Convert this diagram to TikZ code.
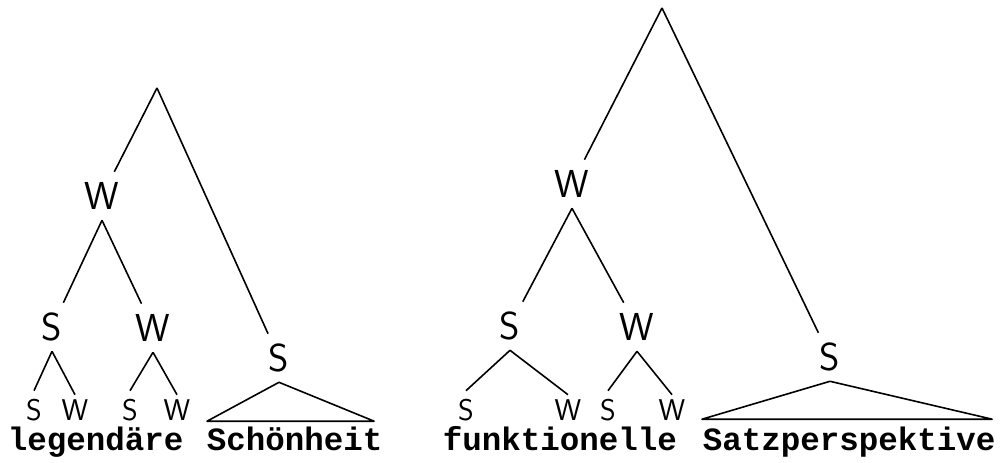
\documentclass[tikz,border=0pt]{standalone}
\usepackage{fontspec}
\newfontfamily\typew{Liberation Mono}
\usetikzlibrary{positioning}
\tikzset{
  lab/.style={font=\fontsize{39}{39}\sffamily, text height=27pt, text depth=0pt,
    inner ysep=10pt, inner xsep=2pt},
  leaf/.style={font=\fontsize{30}{30}\sffamily, text height=21pt, text depth=0pt,
    inner ysep=2pt, inner xsep=1pt},
  word/.style={font=\fontsize{32.5}{32.5}\typew\bfseries, anchor=base west,
    inner sep=0pt, text height=20pt},
}

\begin{document}
\begin{tikzpicture}[
  x=1pt, y=-1pt,
  line width=1.6pt, line join=round,
  every edge/.style={draw},
]
\useasboundingbox (0,0) rectangle (1004,463);

% left tree: legendaere Schoenheit
\coordinate (L0) at (157,88);
\node[lab] (Lw) at (102,196) {W};
\node[lab] (Ls) at (279,358) {S};
\node[lab] (Lws) at (52,327) {S};
\node[lab] (Lww) at (153,328) {W};
\node[leaf] (Lwss) at (34,410) {S};
\node[leaf] (Lwsw) at (75,410) {W};
\node[leaf] (Lwws) at (130,410) {S};
\node[leaf] (Lwww) at (177,410) {W};
\node[word] (legend) at (7,450) {legendäre};
\node[word] (schoen) at (206,450) {Schönheit};

\path
(L0) edge (Lw)
(L0) edge (Ls)
(Lw.south) edge (Lws)
(Lw.south) edge (Lww)
(Lws.south) edge ([yshift=6pt]Lwss.north)
(Lws.south) edge ([yshift=2pt]Lwsw.north)
(Lww.south) edge ([yshift=6pt]Lwws.north)
(Lww.south) edge ([yshift=2pt]Lwww.north);
\draw (Ls.south) -- ([xshift=1pt,yshift=8pt]schoen.north west)
  -- ([xshift=-9pt,yshift=8pt]schoen.north east) -- cycle;

% right tree: funktionelle Satzperspektive
\coordinate (R0) at (662,8);
\node[lab] (Rw) at (572,184) {W};
\node[lab] (Rs) at (830,357) {S};
\node[lab] (Rws) at (510,326) {S};
\node[lab] (Rww) at (637,327) {W};
\node[leaf] (Rwss) at (466,410) {S};
\node[leaf] (Rwsw) at (568,410) {W};
\node[leaf] (Rwws) at (608,410) {S};
\node[leaf] (Rwww) at (672,410) {W};
\node[word] (funk) at (442,450) {funktionelle};
\node[word] (satz) at (702,450) {Satzperspektive};

\path
(R0) edge (Rw)
(R0) edge (Rs)
(Rw.south) edge (Rws)
(Rw.south) edge (Rww)
(Rws.south) edge ([yshift=6pt]Rwss.north)
(Rws.south) edge ([yshift=2pt]Rwsw.north)
(Rww.south) edge ([yshift=6pt]Rwws.north)
(Rww.south) edge ([yshift=2pt]Rwww.north);
\draw (Rs.south) -- ([yshift=10pt]satz.north west)
  -- ([xshift=-4pt,yshift=10pt]satz.north east) -- cycle;
\end{tikzpicture}
\end{document}
